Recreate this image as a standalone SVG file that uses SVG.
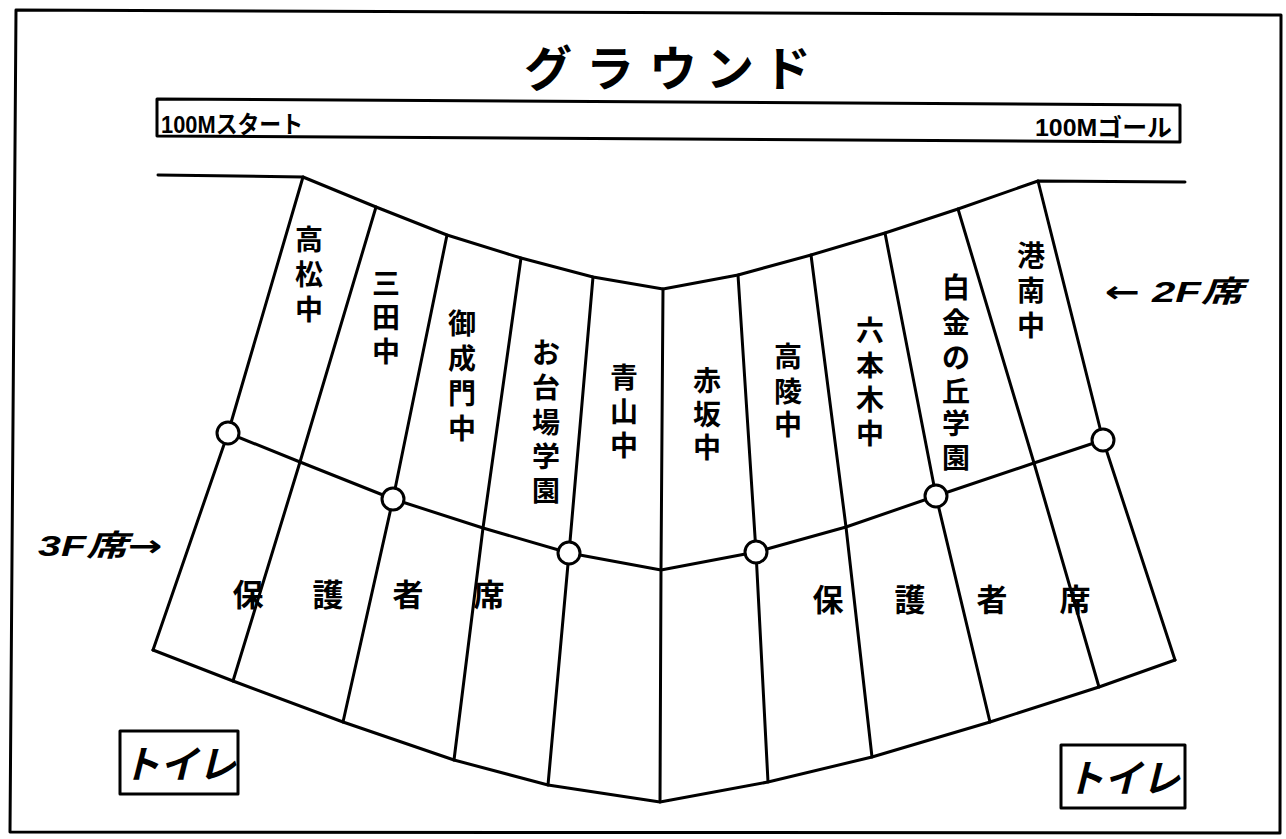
<svg xmlns="http://www.w3.org/2000/svg" width="1286" height="839" viewBox="0 0 1286 839">
<style>
.ln{fill:none;stroke:#000;stroke-width:3;stroke-linejoin:round;stroke-linecap:round}
.ring{fill:#fff;stroke:#000;stroke-width:3}
.jp{font-family:"Noto Sans CJK JP","Noto Sans CJK SC",sans-serif;font-weight:bold;fill:#000}
.col{font-size:28px;text-anchor:middle}
.seat{font-size:31px;text-anchor:middle}
.lbl{font-family:"Liberation Sans","Noto Sans CJK JP",sans-serif;font-weight:bold;font-style:italic;font-size:30px;fill:#000}
.arr{font-family:"DejaVu Sans",sans-serif;font-style:normal}
.bar{font-family:"Liberation Sans","Noto Sans CJK JP",sans-serif;font-weight:bold;font-size:24px;fill:#000}
</style>
<rect width="1286" height="839" fill="#fff"/>
<polygon class="ln" points="16,10 1281,15 1280,833 10,832"/>

<g id="title">
<text class="jp" font-size="48" x="548 610 673 730 787" y="86" text-anchor="middle">グラウンド</text>
</g>

<g id="track">
<polygon class="ln" points="157,99 1180,105 1180,142 157,136"/>
<text class="bar" x="161" y="133" textLength="142" lengthAdjust="spacingAndGlyphs">100Mスタート</text>
<text class="bar" x="1035" y="136" textLength="137" lengthAdjust="spacingAndGlyphs">100Mゴール</text>
</g>

<g id="connectors">
<polyline class="ln" points="158,175 303,177 376,207 447,235 521,258 593,277 663,289 738,275 811,255 885,233 958,209 1038,181 1185,182"/>
<polyline class="ln" points="153,650 233,681 343,722 454,760 548,785 660,802 768,782 872,757 990,722 1099,687 1175,660"/>
<polyline class="ln" points="228,433 300,462 393,499 483,528 569,553 661,570 756,552 846,527 936,496 1034,463 1103,440"/>
<polyline class="ln" points="303,177 228,433 153,650"/>
<polyline class="ln" points="376,207 300,462 233,681"/>
<polyline class="ln" points="447,235 393,499 343,722"/>
<polyline class="ln" points="521,258 483,528 454,760"/>
<polyline class="ln" points="593,277 569,553 548,785"/>
<polyline class="ln" points="663,289 661,570 660,802"/>
<polyline class="ln" points="738,275 756,552 768,782"/>
<polyline class="ln" points="811,255 846,527 872,757"/>
<polyline class="ln" points="885,233 936,496 990,722"/>
<polyline class="ln" points="958,209 1034,463 1099,687"/>
<polyline class="ln" points="1038,181 1103,440 1175,660"/>
</g>

<g id="gates">
<circle class="ring" cx="228" cy="433" r="11"/>
<circle class="ring" cx="393" cy="499" r="11"/>
<circle class="ring" cx="569" cy="553" r="11"/>
<circle class="ring" cx="756" cy="552" r="11"/>
<circle class="ring" cx="936" cy="496" r="11"/>
<circle class="ring" cx="1103" cy="440" r="11"/>
</g>

<g id="takamatsu"><text class="jp col"><tspan x="309" y="250">高</tspan><tspan x="309" y="285">松</tspan><tspan x="309" y="320">中</tspan></text></g>
<g id="mita"><text class="jp col"><tspan x="386" y="294">三</tspan><tspan x="386" y="328">田</tspan><tspan x="386" y="362">中</tspan></text></g>
<g id="onarimon"><text class="jp col"><tspan x="462" y="334">御</tspan><tspan x="462" y="369">成</tspan><tspan x="462" y="404">門</tspan><tspan x="462" y="439">中</tspan></text></g>
<g id="odaiba"><text class="jp col"><tspan x="546" y="363">お</tspan><tspan x="546" y="398">台</tspan><tspan x="546" y="433">場</tspan><tspan x="546" y="467">学</tspan><tspan x="546" y="501">園</tspan></text></g>
<g id="aoyama"><text class="jp col"><tspan x="624" y="388">青</tspan><tspan x="624" y="422">山</tspan><tspan x="624" y="456">中</tspan></text></g>
<g id="akasaka"><text class="jp col"><tspan x="707" y="391">赤</tspan><tspan x="707" y="425">坂</tspan><tspan x="707" y="458">中</tspan></text></g>
<g id="koryo"><text class="jp col"><tspan x="788" y="367">高</tspan><tspan x="788" y="402">陵</tspan><tspan x="788" y="435">中</tspan></text></g>
<g id="roppongi"><text class="jp col"><tspan x="870" y="341">六</tspan><tspan x="870" y="376">本</tspan><tspan x="870" y="410">木</tspan><tspan x="870" y="444">中</tspan></text></g>
<g id="shirokane"><text class="jp col"><tspan x="956" y="298">白</tspan><tspan x="956" y="333">金</tspan><tspan x="956" y="368">の</tspan><tspan x="956" y="402">丘</tspan><tspan x="956" y="434">学</tspan><tspan x="956" y="468">園</tspan></text></g>
<g id="konan"><text class="jp col"><tspan x="1031" y="266">港</tspan><tspan x="1031" y="301">南</tspan><tspan x="1031" y="336">中</tspan></text></g>

<g id="parents-left"><text class="jp seat" x="248 328 408 489" y="606">保護者席</text></g>
<g id="parents-right"><text class="jp seat" x="828 910 992 1075" y="611">保護者席</text></g>

<g id="label-3f"><text class="lbl" x="38" y="556" textLength="124" lengthAdjust="spacingAndGlyphs">3F席<tspan class="arr">→</tspan></text></g>
<g id="label-2f"><text class="lbl" x="1105" y="302" textLength="138" lengthAdjust="spacingAndGlyphs"><tspan class="arr">←</tspan> 2F席</text></g>

<g id="toilet-left">
<rect class="ln" x="120" y="731" width="118" height="63"/>
<text class="jp" font-size="38" font-style="italic" x="179" y="778" text-anchor="middle">トイレ</text>
</g>
<g id="toilet-right">
<rect class="ln" x="1061" y="745" width="124" height="63"/>
<text class="jp" font-size="38" font-style="italic" x="1123" y="792" text-anchor="middle">トイレ</text>
</g>
</svg>
